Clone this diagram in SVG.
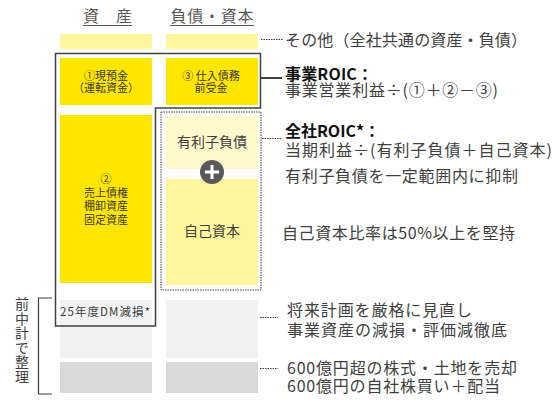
<svg xmlns="http://www.w3.org/2000/svg" width="558" height="401" viewBox="0 0 558 401">
<style>
text{font-family:"Noto Sans CJK JP","Noto Sans",sans-serif;fill:#404040}
.hd{font-size:16px;fill:#595959;text-anchor:middle}
.bx{font-size:11px;text-anchor:middle;fill:#3a3a3a}
.lb{font-size:14px;text-anchor:middle;fill:#404040}
.r{font-size:16px}
.b{font-size:16px;font-weight:bold;fill:#111}
.dot{stroke:#404040;stroke-width:1;stroke-dasharray:1.5 1;fill:none}
.sol{stroke:#404040;stroke-width:1.5;fill:none}
</style>
<rect width="558" height="401" fill="#fff"/>
<g id="headers">
<text class="hd" x="107.5" y="22" textLength="49" lengthAdjust="spacing">資　産</text>
<line x1="83" y1="25.5" x2="132" y2="25.5" stroke="#595959" stroke-width="1"/>
<text class="hd" x="212" y="22" textLength="83" lengthAdjust="spacing">負債・資本</text>
<line x1="170" y1="25.5" x2="254" y2="25.5" stroke="#595959" stroke-width="1"/>
</g>
<g id="other">
<rect x="60" y="34" width="92" height="15" fill="#FFF59D"/>
<rect x="166" y="34" width="92" height="15" fill="#FFF59D"/>
</g>
<g id="cash">
<rect x="60" y="58" width="92" height="47" fill="#FFE600"/>
<text class="bx" x="106" y="80">①現預金</text>
<text class="bx" x="106" y="92">（運転資金）</text>
</g>
<g id="payables">
<rect x="166" y="58" width="92" height="47" fill="#FFE600"/>
<text class="bx" x="211" y="80">③ 仕入債務</text>
<text class="bx" x="211" y="92">前受金</text>
</g>
<g id="assets2">
<rect x="60" y="115" width="92" height="168" fill="#FFE600"/>
<text class="bx" x="106" y="183">②</text>
<text class="bx" x="106" y="197">売上債権</text>
<text class="bx" x="106" y="210">棚卸資産</text>
<text class="bx" x="106" y="224">固定資産</text>
</g>
<g id="debt">
<rect x="166" y="116" width="92" height="53" fill="#FFF9CC"/>
<text class="lb" x="212" y="147">有利子負債</text>
</g>
<g id="equity">
<rect x="166" y="179" width="92" height="106" fill="#FFF59D"/>
<text class="lb" x="212" y="236">自己資本</text>
</g>
<g id="plus">
<circle cx="212" cy="172" r="12" fill="#595959"/>
<path d="M205 172h14M212 165v14" stroke="#fff" stroke-width="3"/>
</g>
<g id="impair">
<rect x="60" y="300" width="92" height="58" fill="#F2F2F2"/>
<rect x="166" y="300" width="92" height="58" fill="#F2F2F2"/>
<text x="105" y="316" font-size="11.5" text-anchor="middle" fill="#3a3a3a" textLength="90" lengthAdjust="spacing">25年度DM減損*</text>
</g>
<g id="sale">
<rect x="60" y="362" width="92" height="31" fill="#D9D9D9"/>
<rect x="166" y="362" width="92" height="31" fill="#D9D9D9"/>
</g>
<g id="roic-box">
<path class="sol" d="M55.5 53.5H260.5V108H155.5V326H55.5Z"/>
</g>
<g id="total-box">
<rect class="dot" x="161" y="112" width="100" height="178" stroke-width="1.2"/>
</g>
<g id="bracket">
<path d="M52 298H38.5V394H52" stroke="#404040" stroke-width="1.2" fill="none"/>
<text x="22" y="297" font-size="14" fill="#595959" style="writing-mode:vertical-rl" letter-spacing="0.5">前中計で整理</text>
</g>
<g id="connectors">
<line class="dot" x1="261" y1="39.5" x2="283" y2="39.5"/>
<line x1="261" y1="78" x2="282" y2="78" stroke="#404040" stroke-width="2"/>
<line class="dot" x1="262" y1="138.5" x2="282" y2="138.5"/>
<line class="dot" x1="260" y1="317.5" x2="278" y2="317.5"/>
<line class="dot" x1="260" y1="368.5" x2="278" y2="368.5"/>
</g>
<g id="notes">
<text class="r" x="285" y="46" textLength="242" lengthAdjust="spacing">その他（全社共通の資産・負債）</text>
<text class="b" x="285" y="80" textLength="88" lengthAdjust="spacing">事業ROIC：</text>
<text class="r" x="285" y="96" textLength="213" lengthAdjust="spacing">事業営業利益÷(①＋②－③)</text>
<text class="b" x="285" y="137" textLength="95" lengthAdjust="spacing">全社ROIC*：</text>
<text class="r" x="285" y="156" textLength="267" lengthAdjust="spacing">当期利益÷(有利子負債＋自己資本)</text>
<text class="r" x="285" y="182" textLength="233" lengthAdjust="spacing">有利子負債を一定範囲内に抑制</text>
<text class="r" x="282" y="239" textLength="233" lengthAdjust="spacing">自己資本比率は50%以上を堅持</text>
<text class="r" x="287" y="316" textLength="185" lengthAdjust="spacing">将来計画を厳格に見直し</text>
<text class="r" x="287" y="336" textLength="220" lengthAdjust="spacing">事業資産の減損・評価減徹底</text>
<text class="r" x="287" y="374" textLength="230" lengthAdjust="spacing">600億円超の株式・土地を売却</text>
<text class="r" x="287" y="392" textLength="213" lengthAdjust="spacing">600億円の自社株買い＋配当</text>
</g>
</svg>
